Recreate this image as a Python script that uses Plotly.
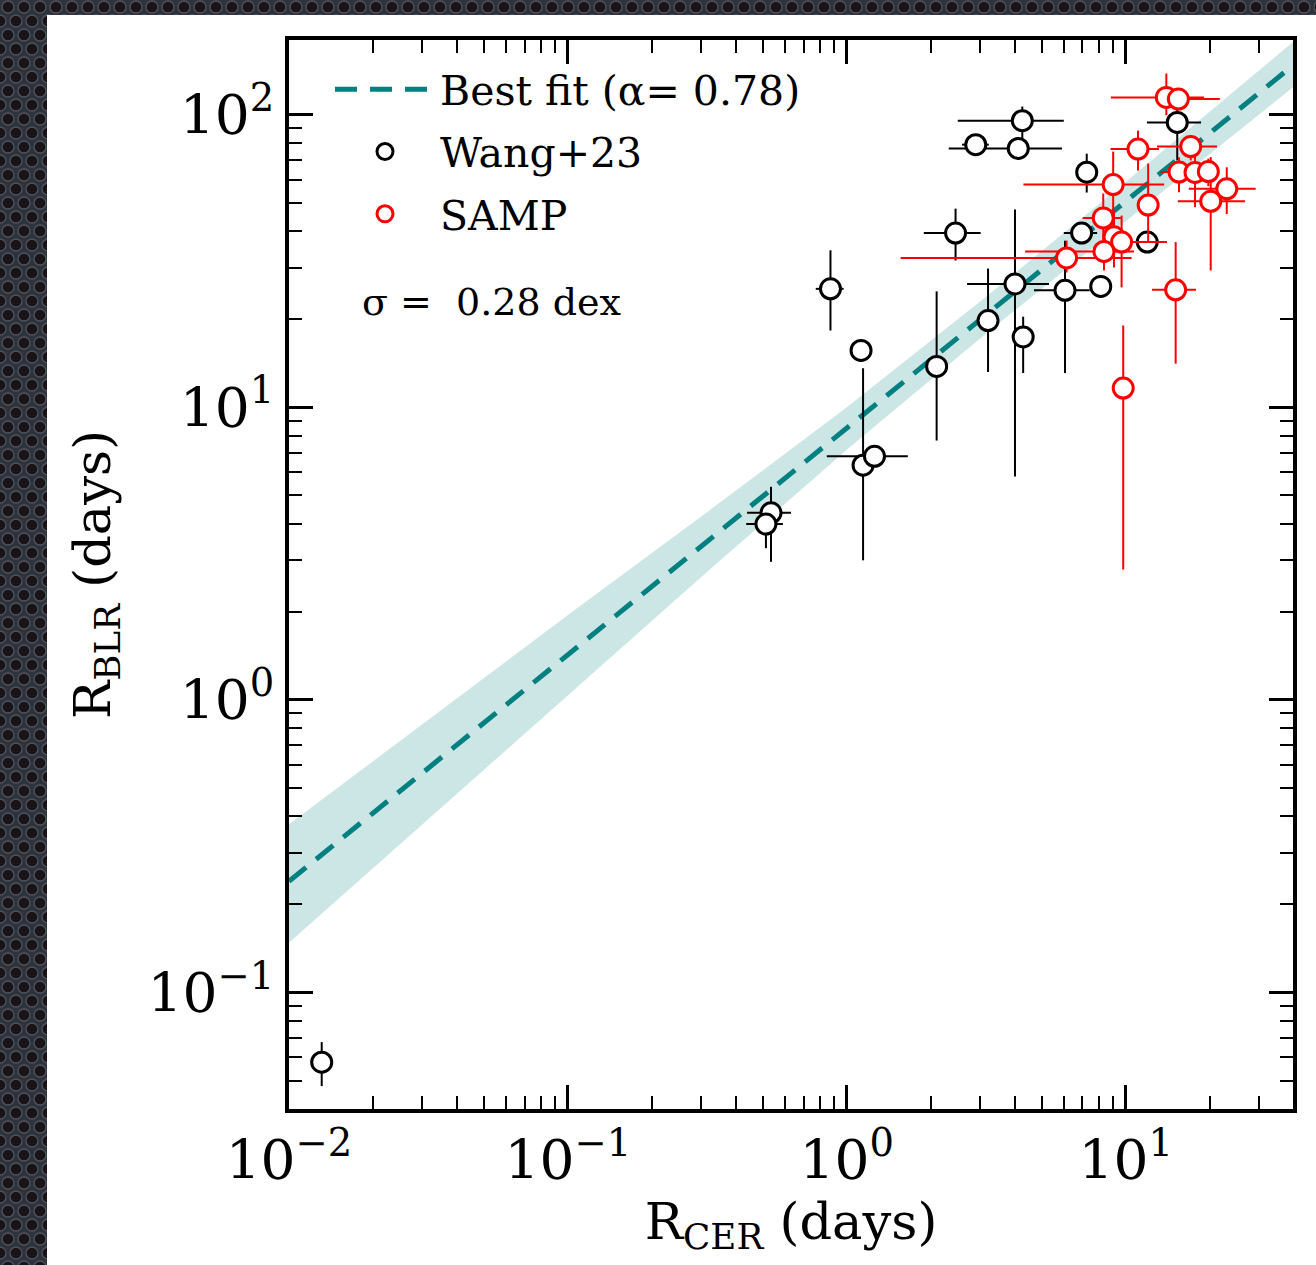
import base64
import plotly.graph_objects as go

# ---------------- data ----------------
# Wang+23 sample
wang_x = [4.26, 2.90, 4.12, 7.25, 15.31, 2.455, 6.95, 11.95, 4.01, 6.06, 8.14,
          3.21, 4.29, 2.10, 0.874, 1.125, 1.144, 1.257, 0.535, 0.513, 0.0131]
wang_y = [95.4, 79.0, 76.7, 63.6, 94.1, 39.4, 39.4, 36.7, 26.4, 25.1, 25.9,
          19.8, 17.4, 13.8, 25.4, 15.65, 6.34, 6.80, 4.36, 3.99, 0.0578]
wang_xerr_lo = [1.76, 0.31, 1.80, 0.0, 3.39, 0.566, 0.95, 2.1, 1.31, 1.37, 0.6,
                0.2, 0.0, 0.0, 0.1, 0.0, 0.0, 0.409, 0.096, 0.077, 0.0]
wang_xerr_hi = [1.74, 0.33, 1.79, 0.0, 3.32, 0.565, 0.95, 2.1, 1.30, 1.37, 0.6,
                0.2, 0.0, 0.0, 0.1, 0.0, 0.0, 0.398, 0.096, 0.077, 0.0]
wang_yerr_lo = [13.9, 0.0, 0.0, 9.4, 24.3, 7.65, 0.0, 0.0, 20.6, 12.0, 0.0,
                6.6, 4.3, 6.1, 7.1, 0.0, 3.34, 0.0, 1.395, 0.69, 0.0099]
wang_yerr_hi = [11.2, 0.0, 0.0, 10.0, 24.0, 8.35, 0.0, 0.0, 21.0, 12.0, 0.0,
                10.0, 3.0, 11.1, 9.0, 0.0, 7.26, 0.0, 0.99, 0.69, 0.0099]

# SAMP sample
samp_x = [13.99, 15.45, 11.07, 17.11, 15.53, 17.73, 19.79, 23.04, 20.18, 9.02,
          12.04, 8.31, 9.08, 9.67, 8.36, 6.14, 15.11, 9.80]
samp_y = [114.6, 113.1, 76.3, 77.8, 63.7, 63.5, 63.9, 55.8, 50.6, 57.7,
          49.1, 44.4, 38.3, 36.7, 34.1, 32.4, 25.2, 11.64]
samp_xerr_lo = [5.14, 2.3, 2.24, 4.16, 2.17, 1.5, 1.5, 6.2, 4.8, 4.72,
                0.0, 1.3, 0.8, 1.3, 4.0, 4.58, 2.68, 0.0]
samp_xerr_hi = [5.10, 6.3, 2.10, 4.16, 2.17, 1.5, 1.5, 6.2, 6.6, 4.72,
                0.0, 1.3, 0.8, 4.4, 2.35, 4.36, 2.77, 0.0]
samp_yerr_lo = [15.0, 8.0, 11.9, 8.0, 9.4, 15.2, 6.9, 10.0, 21.25, 19.7,
                12.2, 7.2, 8.25, 11.0, 4.75, 3.5, 11.1, 8.85]
samp_yerr_hi = [23.7, 8.0, 11.9, 7.0, 7.8, 15.2, 6.9, 10.3, 21.0, 17.1,
                19.0, 9.4, 8.7, 8.5, 3.0, 4.75, 11.5, 7.4]

# best-fit relation and its band, read at a grid of R_CER values
fit_x = [0.01, 0.0316, 0.1, 0.316, 1.0, 3.16, 10.0, 40.0]
fit_y = [0.240, 0.585, 1.429, 3.487, 8.51, 20.78, 50.7, 147.9]
band_hi = [0.376, 0.856, 1.95, 4.39, 10.0, 23.85, 58.9, 177.8]
band_lo = [0.148, 0.391, 1.035, 2.74, 7.16, 17.88, 43.2, 124.5]

x_tickvals = [0.01, 0.1, 1, 10]
x_ticktext = ["10<sup>\u22122</sup>", "10<sup>\u22121</sup>", "10<sup>0</sup>", "10<sup>1</sup>"]
y_tickvals = [0.1, 1, 10, 100]
y_ticktext = ["10<sup>\u22121</sup>", "10<sup>0</sup>", "10<sup>1</sup>", "10<sup>2</sup>"]

TEAL = "#008080"
FONT = "DejaVu Serif"

# ---------------- background (dark perforated metal + white card) ----------------
W, H = 1316, 1265
svg = f'''<svg xmlns="http://www.w3.org/2000/svg" width="{W}" height="{H}" viewBox="0 0 {W} {H}">
<defs><pattern id="p" width="16" height="28" patternUnits="userSpaceOnUse">
<rect width="16" height="28" fill="#2e333b"/>
<circle cx="8" cy="7" r="6" fill="#1a1318" stroke="#4c545e" stroke-width="1.3"/>
<circle cx="0" cy="21" r="6" fill="#1a1318" stroke="#4c545e" stroke-width="1.3"/>
<circle cx="16" cy="21" r="6" fill="#1a1318" stroke="#4c545e" stroke-width="1.3"/>
</pattern></defs>
<rect width="{W}" height="{H}" fill="url(#p)"/>
<rect x="47" y="15" width="{W-47}" height="{H-15}" fill="#ffffff"/>
</svg>'''
bg_uri = "data:image/svg+xml;base64," + base64.b64encode(svg.encode()).decode()

ML, MR, MT, MB = 289, 23, 40, 156
PW, PH = W - ML - MR, H - MT - MB

fig = go.Figure()

# band
fig.add_trace(go.Scatter(x=fit_x, y=band_hi, mode="lines", line=dict(width=0),
                         hoverinfo="skip", showlegend=False))
fig.add_trace(go.Scatter(x=fit_x, y=band_lo, mode="lines", line=dict(width=0),
                         fill="tonexty", fillcolor="rgba(0,128,128,0.2)",
                         hoverinfo="skip", showlegend=False))
# best fit line
fig.add_trace(go.Scatter(x=fit_x, y=fit_y, mode="lines", name="Best fit (\u03b1= 0.78)",
                         line=dict(color=TEAL, width=5, dash="22px,13px"),
                         legendgroup="a"))

def err(arr_hi, arr_lo, color):
    return dict(type="data", symmetric=False, array=arr_hi, arrayminus=arr_lo,
                color=color, thickness=2, width=0)

fig.add_trace(go.Scatter(
    x=wang_x, y=wang_y, mode="markers", name="Wang+23", legendgroup="b",
    marker=dict(symbol="circle", size=20, color="white", line=dict(color="black", width=3)),
    error_x=err(wang_xerr_hi, wang_xerr_lo, "black"),
    error_y=err(wang_yerr_hi, wang_yerr_lo, "black")))

fig.add_trace(go.Scatter(
    x=samp_x, y=samp_y, mode="markers", name="SAMP", legendgroup="c",
    marker=dict(symbol="circle", size=20, color="white", line=dict(color="#ff0000", width=3)),
    error_x=err(samp_xerr_hi, samp_xerr_lo, "#ff0000"),
    error_y=err(samp_yerr_hi, samp_yerr_lo, "#ff0000")))

def minor_vals(lo_exp, hi_exp):
    out = []
    for e in range(lo_exp, hi_exp + 1):
        for m in range(2, 10):
            out.append(m * 10.0 ** e)
    return out

axis_common = dict(
    type="log", showgrid=False, zeroline=False,
    showline=True, linecolor="black", linewidth=3.5, mirror="allticks",
    ticks="inside", ticklen=24, tickwidth=2.5, tickcolor="black",
    tickfont=dict(family=FONT, size=55, color="black"),
    minor=dict(ticks="inside", ticklen=13, tickwidth=2, tickcolor="black",
               tickmode="array", showgrid=False),
)

fig.update_xaxes(**axis_common, range=[-2, 1.6], tickmode="array",
                 tickvals=x_tickvals, ticktext=x_ticktext)
fig.update_xaxes(minor_tickvals=minor_vals(-2, 1),
                 title=dict(text="R<sub>CER</sub> (days)", font=dict(family=FONT, size=51, color="black"),
                            standoff=8))
fig.update_yaxes(**axis_common, range=[-1.39794, 2.25527], tickmode="array",
                 tickvals=y_tickvals, ticktext=y_ticktext)
fig.update_yaxes(minor_tickvals=minor_vals(-2, 2),
                 title=dict(text="R<sub>BLR</sub> (days)", font=dict(family=FONT, size=51, color="black"),
                            standoff=22))

fig.add_annotation(xref="paper", yref="paper", x=(360 - ML) / PW, y=(H - MB - 302) / PH,
                   xanchor="left", yanchor="middle", showarrow=False,
                   text="\u03c3 =  0.28 dex", font=dict(family=FONT, size=38, color="black"))

fig.add_layout_image(dict(source=bg_uri, xref="paper", yref="paper",
                          x=-ML / PW, y=(H - MB) / PH, sizex=W / PW, sizey=H / PH,
                          xanchor="left", yanchor="top", sizing="stretch", layer="below"))

fig.update_layout(
    width=W, height=H, margin=dict(l=ML, r=MR, t=MT, b=MB, autoexpand=False),
    paper_bgcolor="#2e333b", plot_bgcolor="white",
    font=dict(family=FONT, color="black"),
    legend=dict(x=(330 - ML) / PW, y=0.985, xanchor="left", yanchor="top", bgcolor="rgba(0,0,0,0)",
                font=dict(family=FONT, size=41, color="black"), tracegroupgap=6,
                itemwidth=100),
    showlegend=True,
)

fig.write_html("out.html")
